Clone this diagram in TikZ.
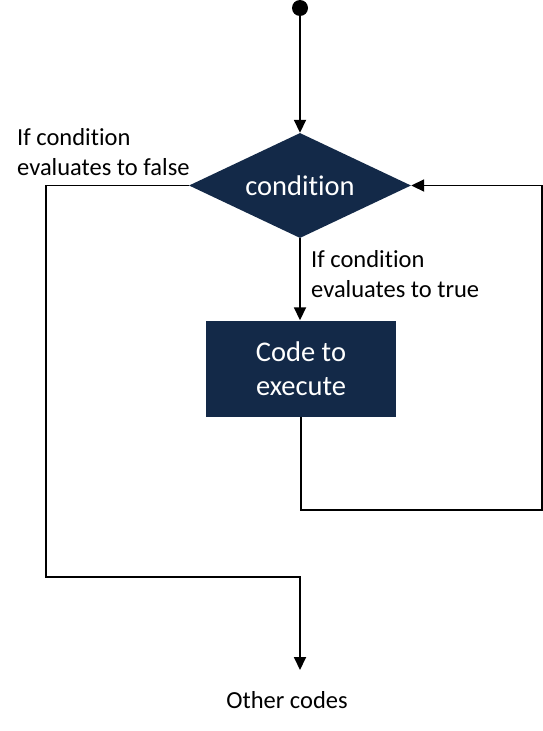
\documentclass[tikz,border=0pt]{standalone}
\usepackage{fontspec}
\setmainfont[Ligatures=NoCommon]{Carlito}
\usetikzlibrary{shapes.geometric,arrows.meta}
\definecolor{navy}{RGB}{19,41,72}
\begin{document}
\begin{tikzpicture}[x=1pt,y=-1pt,
    flow/.style={line width=1.8pt,-{Triangle[width=12pt,length=13pt]}},
    note/.style={align=left,font=\fontsize{24.5}{30}\selectfont,inner sep=0pt},
    block/.style={fill=navy,text=white,align=center,font=\fontsize{28.5}{34}\selectfont}]
        \useasboundingbox (0,0) rectangle (543,731);

        % Define the nodes
        \node[circle, fill=black, inner sep=0pt, minimum size=16] (start) at (300,8) {};
        \node[block, diamond, aspect=2.1, inner sep=0pt, minimum width=222, minimum height=105] (cond) at (300,185.5) {condition};
        \node[block, inner sep=0pt, minimum width=190, minimum height=96] (body) at (301,368.5) {Code to\\execute};

        % Define the labels
        \node[note, anchor=west] (falsetxt) at (17,152) {If condition\\evaluates to false};
        \node[note, anchor=west] (truetxt) at (311,274) {If condition\\evaluates to true};
        \node[note] (other) at (287,700) {Other codes};

        % Turning points of the loops
        \coordinate (loopbr) at (542,510);
        \coordinate (falsel) at (46,577);
        \coordinate (outpt) at (300,670);

        % Define the edges
        \draw[flow] (start) -- (cond.north);
        \draw[flow] (cond.south) -- (cond.south |- body.north);
        \draw[flow] (body.south) |- (loopbr) |- (cond.east);
        \draw[flow] (cond.west) -| (falsel) -| (outpt);

    \end{tikzpicture}
\end{document}
